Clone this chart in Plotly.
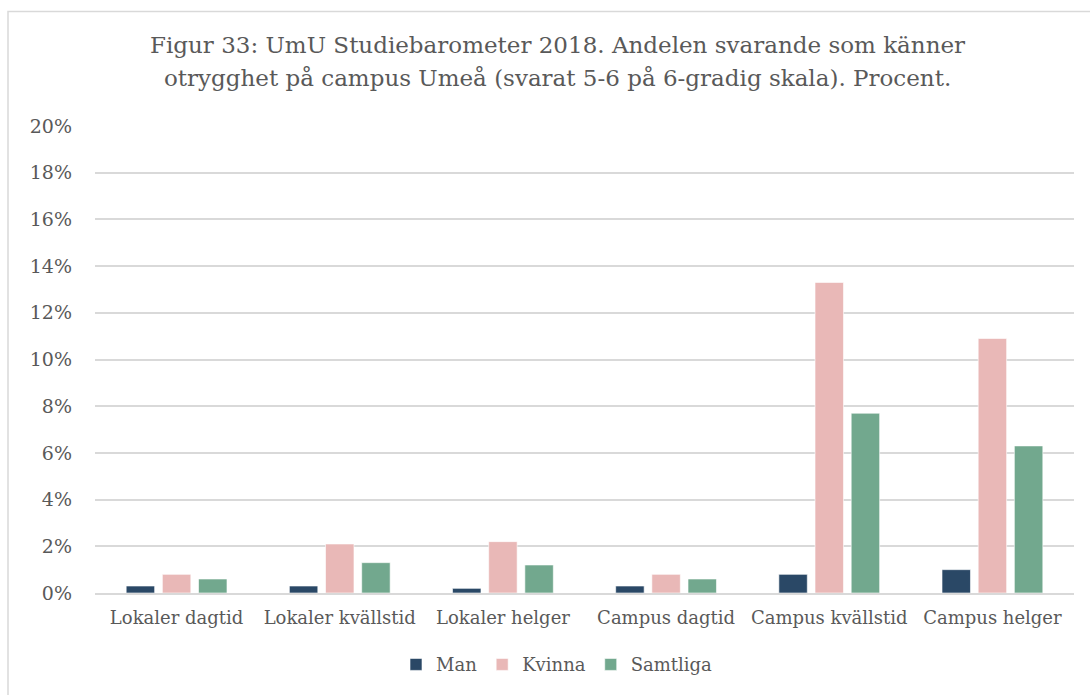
import plotly.graph_objects as go

categories = ["Lokaler dagtid", "Lokaler kvällstid", "Lokaler helger",
              "Campus dagtid", "Campus kvällstid", "Campus helger"]
man = [0.3, 0.3, 0.2, 0.3, 0.8, 1.0]
kvinna = [0.8, 2.1, 2.2, 0.8, 13.3, 10.9]
samtliga = [0.6, 1.3, 1.2, 0.6, 7.7, 6.3]
y_ticks = [0, 2, 4, 6, 8, 10, 12, 14, 16, 18, 20]
y_tick_labels = [f"{v}%" for v in y_ticks]

title_lines = ["Figur 33: UmU Studiebarometer 2018. Andelen svarande som känner",
               "otrygghet på campus Umeå (svarat 5-6 på 6-gradig skala). Procent."]

FONT = "DejaVu Serif"
TEXT = "#595959"
GRID = "#d9d9d9"

W, H = 1090, 695
ML, MR, MT, MB = 95, 16, 126, 100
PW, PH = W - ML - MR, H - MT - MB


def px_x(px):
    return (px - ML) / PW


def px_y(py):
    return 1 - (py - MT) / PH


series = [("Man", man, "#2a4866"),
          ("Kvinna", kvinna, "#e9b8b7"),
          ("Samtliga", samtliga, "#72a88e")]

fig = go.Figure()
for name, vals, color in series:
    fig.add_trace(go.Bar(
        x=categories, y=vals, name=name,
        marker=dict(color=color, line=dict(color="rgba(255,255,255,0.6)", width=1)),
    ))

# two title lines, placed individually for the line spacing
title_annotations = [
    dict(text=line, xref="paper", yref="paper",
         x=px_x(557), y=px_y(py), xanchor="center", yanchor="middle",
         showarrow=False, font=dict(family=FONT, size=23, color=TEXT))
    for line, py in zip(title_lines, [45, 78])
]

fig.update_layout(
    width=W, height=H,
    margin=dict(l=ML, r=MR, t=MT, b=MB),
    paper_bgcolor="white", plot_bgcolor="white",
    barmode="group", bargap=0.335, bargroupgap=0.213,
    font=dict(family=FONT, color=TEXT, size=18),
    showlegend=True,
    legend=dict(orientation="h", x=px_x(557), xanchor="center",
                y=px_y(667), yanchor="middle",
                font=dict(family=FONT, size=18, color=TEXT),
                itemclick=False, traceorder="normal"),
    xaxis=dict(showgrid=False, showline=True, linecolor=GRID, linewidth=2,
               ticks="", tickfont=dict(family=FONT, size=18, color=TEXT),
               ticklabelstandoff=7),
    yaxis=dict(range=[0, 20], tickvals=y_ticks, ticktext=y_tick_labels,
               showgrid=True, gridcolor=GRID, gridwidth=2,
               zeroline=False, showline=False, ticks="",
               tickfont=dict(family=FONT, size=19, color=TEXT),
               ticklabelstandoff=22),
    annotations=title_annotations,
    shapes=[dict(type="rect", xref="paper", yref="paper",
                 x0=px_x(8), x1=px_x(1120), y0=px_y(720), y1=px_y(11),
                 line=dict(color=GRID, width=1.5), fillcolor="rgba(0,0,0,0)",
                 layer="below")],
)

fig.write_html("out.html")
